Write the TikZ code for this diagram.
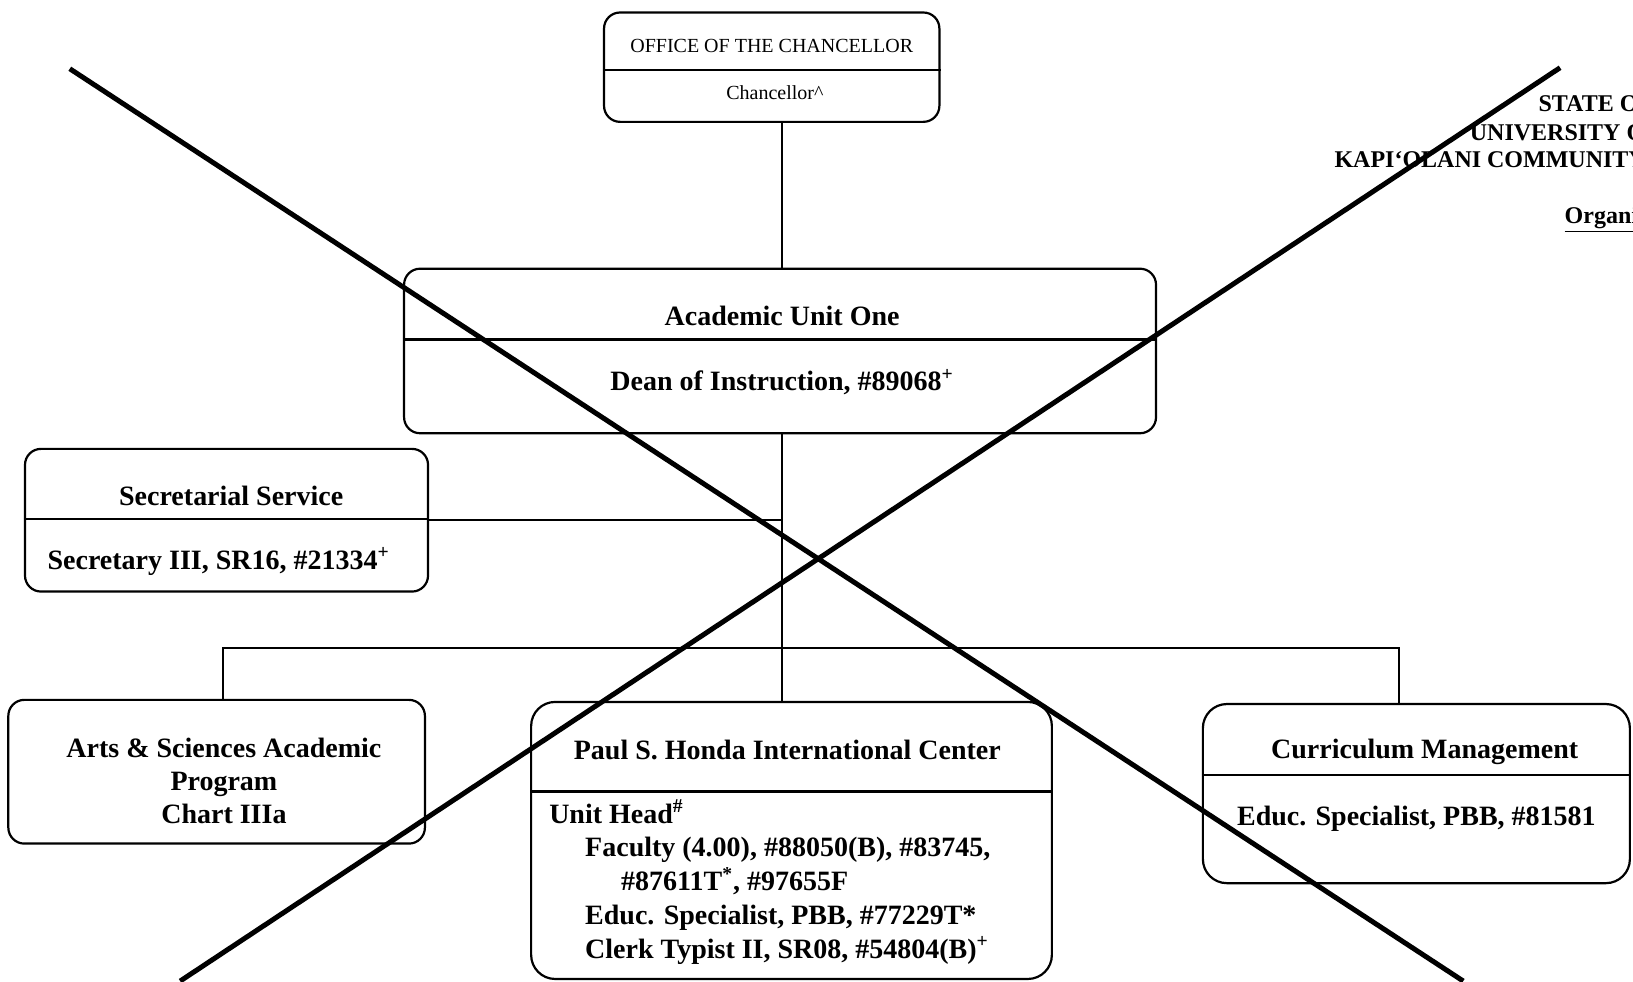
\documentclass[tikz,border=0pt]{standalone}
\usepackage{fontspec}
\setmainfont{Liberation Serif}
\usepackage{tikz}

\newcommand{\px}{0.5208pt}

\begin{document}
\begin{tikzpicture}[x=0.5208pt,y=-0.5208pt,
	unitbox/.style={draw=black,line width=1.1pt,rounded corners=8pt,inner sep=0pt},
	bigbox/.style={unitbox,rounded corners=12pt},
	boxtext/.style={inner sep=0pt,font=\fontsize{14}{16.5}\selectfont\bfseries},
	smalltext/.style={inner sep=0pt,font=\fontsize{10}{12}\selectfont},
	headtext/.style={inner sep=0pt,anchor=west,font=\fontsize{12}{14}\selectfont\bfseries},
	crossline/.style={line width=2.5pt}]
	
	\useasboundingbox (0,0) rectangle (1568,942);
	
	\node[unitbox,minimum width=322*\px,minimum height=105*\px] (chan) at (741, 64.5)  {};
	\node[unitbox,minimum width=722*\px,minimum height=158*\px] (aca)  at (749, 337)   {};
	\node[unitbox,minimum width=387*\px,minimum height=137*\px] (sec)  at (217.5, 499.5) {};
	\node[unitbox,minimum width=400*\px,minimum height=138*\px] (arts) at (208, 741)   {};
	\node[bigbox,minimum width=500*\px,minimum height=266*\px]  (honda) at (760, 807)  {};
	\node[bigbox,minimum width=410*\px,minimum height=172*\px]  (cur)  at (1360, 762)  {};
	
	% dividers
	\draw[line width=1.1pt] (chan.west |- 0,67)   -- (chan.east |- 0,67);
	\draw[line width=1.1pt] (aca.west |- 0,326)   -- (aca.east |- 0,326);
	\draw[line width=1.1pt] (sec.west |- 0,498)   -- (sec.east |- 0,498);
	\draw[line width=1.1pt] (honda.west |- 0,760) -- (honda.east |- 0,760);
	\draw[line width=1.1pt] (cur.west |- 0,744)   -- (cur.east |- 0,744);
	
	\node[smalltext] (chantitle) at (741, 44) {OFFICE OF THE CHANCELLOR};
	\node[smalltext] (chanpos)   at (744, 89) {Chancellor\textasciicircum};
	\node[boxtext] (acatitle) at (751, 303) {Academic Unit One};
	\node[boxtext] (acapos)   at (751, 367) {Dean of Instruction, \#89068\textsuperscript{+}};
	\node[boxtext] (sectitle) at (222, 476) {Secretarial Service};
	\node[boxtext] (secpos)   at (210, 539) {Secretary III, SR16, \#21334\textsuperscript{+}};
	\node[boxtext,align=center] (artstitle) at (215, 750) {Arts \& Sciences Academic\\Program\\Chart IIIa};
	\node[boxtext] (hondatitle) at (756, 720) {Paul S. Honda International Center};
	\node[boxtext,align=left,anchor=west,font=\fontsize{14}{16.9}\selectfont\bfseries] (hondapos) at (527, 847)
		{Unit Head\textsuperscript{\#}\\
		\hspace*{18pt}Faculty (4.00), \#88050(B), \#83745,\\
		\hspace*{36pt}\#87611T\textsuperscript{*}, \#97655F\\
		\hspace*{18pt}Educ. Specialist, PBB, \#77229T*\\
		\hspace*{18pt}Clerk Typist II, SR08, \#54804(B)\textsuperscript{+}};
	\node[boxtext] (curtitle) at (1368, 722) {Curriculum Management};
	\node[boxtext] (curpos)   at (1360, 786) {Educ. Specialist, PBB, \#81581};
	
	\node[headtext] (state) at (1477, 100) {STATE O};
	\node[headtext] (univ)  at (1411, 127) {UNIVERSITY O};
	\node[headtext] (kcc)   at (1281, 153) {KAPI‘OLANI COMMUNITY};
	\node[headtext] (org)   at (1502, 211) {\underline{Organi}};
	
	\coordinate (trunk) at (751, 0);
	\coordinate (busL)  at (214, 622);
	\coordinate (busR)  at (1343, 622);
	
	\path[-,line width=1pt] (chan.south -| trunk) edge (aca.north -| trunk);
	\path[-,line width=1pt] (aca.south -| trunk) edge (honda.north -| trunk);
	\path[-,line width=1pt] (sec.east) edge (sec.east -| trunk);
	\draw[line width=1pt] (arts.north -| busL) -- (busL) -- (busR) -- (cur.north -| busR);
	
	% crossed out
	\coordinate (xa) at (67, 66);
	\coordinate (xb) at (1405, 942);
	\coordinate (xc) at (1498, 65);
	\coordinate (xd) at (173, 942);
	\draw[crossline] (xa) -- (xb);
	\draw[crossline] (xc) -- (xd);
\end{tikzpicture}
\end{document}
